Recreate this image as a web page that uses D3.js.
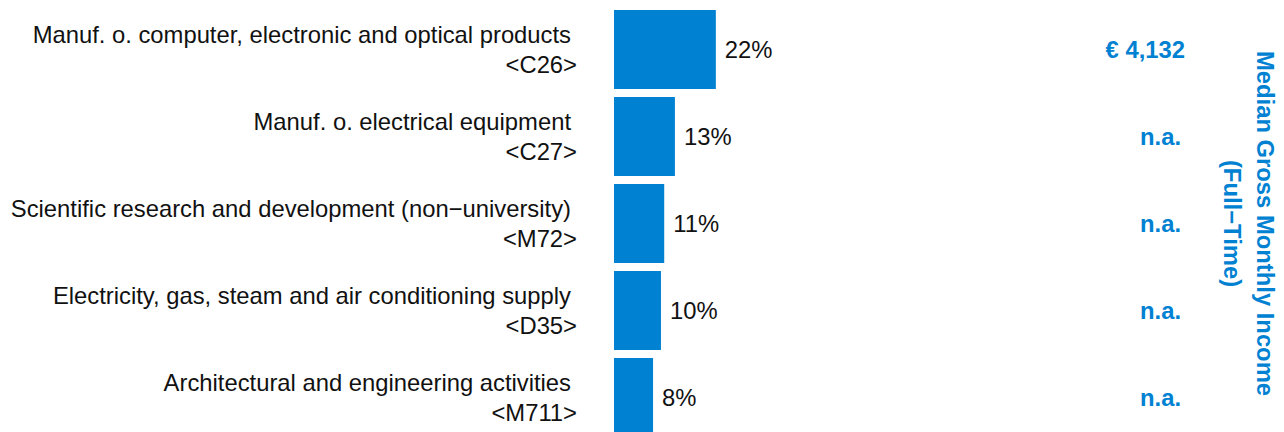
<!DOCTYPE html>
<html>
<head>
<meta charset="utf-8">
<script src="https://cdn.jsdelivr.net/npm/d3@7"></script>
<style>
  body { margin: 0; background: #fff; }
  text { font-family: "Liberation Sans", Arial, sans-serif; }
</style>
</head>
<body>
<div id="chart"></div>
<script>
// data
var sectors = [
    "Manuf. o. computer, electronic and optical products",
    "Manuf. o. electrical equipment",
    "Scientific research and development (non\u2212university)",
    "Electricity, gas, steam and air conditioning supply",
    "Architectural and engineering activities"
];
var codes = ["<C26>", "<C27>", "<M72>", "<D35>", "<M711>"];
var shares = [21.9, 13.1, 10.8, 10.1, 8.4];
var shareLabels = ["22%", "13%", "11%", "10%", "8%"];
var incomes = ["\u20ac 4,132", "n.a.", "n.a.", "n.a.", "n.a."];
var incomeTitle = ["Median Gross Monthly Income", "(Full\u2212Time)"];

var svgWidth = 1284;
var svgHeight = 432;
var blue = "#0081d2";
var fontSize = "23.8px";

var svg = d3.select("#chart").append("svg")
    .attr("width", svgWidth)
    .attr("height", svgHeight);

var idx = d3.range(sectors.length);

// band scale for rows
var yScale = d3.scaleBand()
    .domain(idx)
    .range([10, 437])
    .paddingInner(0.092);

// linear scale for bar length
var xScale = d3.scaleLinear()
    .domain([0, 100])
    .range([614, 614 + 465]);

// bars
svg.selectAll("rect.bar")
    .data(idx)
    .enter()
    .append("rect")
    .attr("class", "bar")
    .attr("x", xScale(0))
    .attr("y", i => yScale(i))
    .attr("width", i => xScale(shares[i]) - xScale(0))
    .attr("height", yScale.bandwidth())
    .attr("fill", blue);

// value labels
svg.selectAll("text.pct")
    .data(idx)
    .enter()
    .append("text")
    .attr("class", "pct")
    .attr("x", i => xScale(shares[i]) + 9)
    .attr("y", i => yScale(i) + yScale.bandwidth() / 2 + 8.5)
    .attr("font-size", fontSize)
    .attr("fill", "#111")
    .text(i => shareLabels[i]);

// category labels (two lines)
var labels = svg.selectAll("g.lab")
    .data(idx)
    .enter()
    .append("g")
    .attr("class", "lab");

labels.append("text")
    .attr("x", 571)
    .attr("y", i => yScale(i) + yScale.bandwidth() / 2 - 6.5)
    .attr("text-anchor", "end")
    .attr("font-size", fontSize)
    .attr("fill", "#111")
    .text(i => sectors[i]);

labels.append("text")
    .attr("x", 577)
    .attr("y", i => yScale(i) + yScale.bandwidth() / 2 + 23.5)
    .attr("text-anchor", "end")
    .attr("font-size", fontSize)
    .attr("fill", "#111")
    .text(i => codes[i]);

// income column
svg.selectAll("text.inc")
    .data(idx)
    .enter()
    .append("text")
    .attr("class", "inc")
    .attr("x", i => i === 0 ? 1185 : 1181)
    .attr("y", i => yScale(i) + yScale.bandwidth() / 2 + 8.5)
    .attr("text-anchor", "end")
    .attr("font-size", fontSize)
    .attr("font-weight", "bold")
    .attr("fill", blue)
    .text(i => incomes[i]);

// rotated column title
var title = svg.append("text")
    .attr("transform", "translate(1257, 223.5) rotate(90)")
    .attr("text-anchor", "middle")
    .attr("font-size", fontSize)
    .attr("font-weight", "bold")
    .attr("fill", blue);

title.selectAll("tspan")
    .data(incomeTitle)
    .enter()
    .append("tspan")
    .attr("x", 0)
    .attr("dy", (d, i) => i === 0 ? 0 : 33)
    .text(d => d);
</script>
</body>
</html>
